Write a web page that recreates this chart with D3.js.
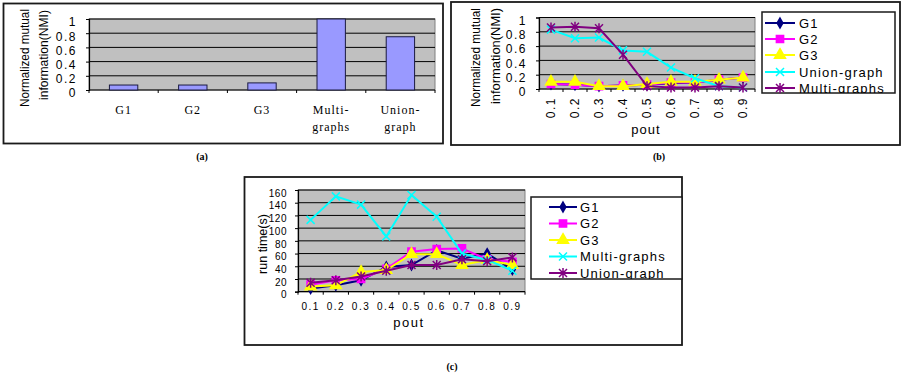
<!DOCTYPE html>
<html><head><meta charset="utf-8">
<script src="https://cdn.jsdelivr.net/npm/d3@7"></script>
<style>body{margin:0;background:#fff} svg{display:block}</style>
</head><body>
<svg id="chart" width="901" height="378"></svg>
<script>
// ---------- data ----------
const catsA = ["G1", "G2", "G3", "Multi-graphs", "Union-graph"];
const catLabelsA = [["G1"], ["G2"], ["G3"], ["Multi-", "graphs"], ["Union-", "graph"]];
const nmiA = [0.07, 0.07, 0.1, 1.0, 0.75];

const pout = ["0.1", "0.2", "0.3", "0.4", "0.5", "0.6", "0.7", "0.8", "0.9"];
const nmiTicks = [0, 0.2, 0.4, 0.6, 0.8, 1];
const nmiTickLabels = ["0", "0.2", "0.4", "0.6", "0.8", "1"];
const runTicks = [0, 20, 40, 60, 80, 100, 120, 140, 160];

// panel (b): NMI vs pout
const bNames = ["G1", "G2", "G3", "Union-graph", "Multi-graphs"];
const bG1 = [0.07, 0.06, 0.04, 0.05, 0.06, 0.08, 0.09, 0.13, 0.16];
const bG2 = [0.07, 0.06, 0.04, 0.05, 0.06, 0.09, 0.09, 0.13, 0.16];
const bG3 = [0.10, 0.10, 0.04, 0.04, 0.07, 0.10, 0.10, 0.13, 0.16];
const bUnion = [0.83, 0.71, 0.72, 0.54, 0.52, 0.30, 0.15, 0.04, 0.02];
const bMulti = [0.86, 0.87, 0.85, 0.48, 0.04, 0.02, 0.02, 0.04, 0.02];

// panel (c): run time vs pout
const cNames = ["G1", "G2", "G3", "Multi-graphs", "Union-graph"];
const cG1 = [5, 10, 18, 39, 42, 65, 52, 60, 35];
const cG2 = [11, 18, 20, 36, 63, 67, 68, 51, 47];
const cG3 = [8, 10, 31, 34, 59, 59, 42, 50, 42];
const cMulti = [113, 150, 137, 87, 152, 118, 60, 50, 33];
const cUnion = [14, 18, 24, 33, 42, 42, 51, 48, 54];

// ---------- styles ----------
const SANS = "'Liberation Sans', Arial, sans-serif";
const SERIF = "'Liberation Serif', 'Times New Roman', serif";
const styles = {
  G1: {color: "#000080", marker: "diamond"},
  G2: {color: "#FF00FF", marker: "square"},
  G3: {color: "#FFFF00", marker: "triangle"},
  cyan: {color: "#00FFFF", marker: "x"},
  purple: {color: "#800080", marker: "star"}
};
const markerPath = {
  diamond: d3.symbol(d3.symbolDiamond, 28)(),
  square: d3.symbol(d3.symbolSquare, 52)(),
  triangle: d3.symbol(d3.symbolTriangle, 52)(),
  x: "M-4,-4L4,4M-4,4L4,-4",
  star: "M-4,-4L4,4M-4,4L4,-4M0,-5L0,5"
};

const svg = d3.select("#chart");

function box(x0, y0, x1, y1) {
  svg.append("rect").attr("x", x0).attr("y", y0)
    .attr("width", x1 - x0).attr("height", y1 - y0)
    .attr("fill", "none").attr("stroke", "#1a1a1a").attr("stroke-width", 1.8);
}

function plotFrame(P, x, y, ticks, labels, o) {
  const g = svg.append("g");
  g.append("rect").attr("x", P.l).attr("y", P.t).attr("width", P.r - P.l).attr("height", P.b - P.t)
    .attr("fill", "#C0C0C0").attr("stroke", "#808080").attr("stroke-width", 1);
  g.selectAll("line.grid").data(ticks.filter(t => t > 0)).join("line")
    .attr("x1", P.l).attr("x2", P.r).attr("y1", d => y(d)).attr("y2", d => y(d))
    .attr("stroke", "#000").attr("stroke-width", 1);
  const ya = g.append("g").attr("transform", `translate(${P.l},0)`)
    .call(d3.axisLeft(y).tickValues(ticks).tickSize(3).tickPadding(o.yPad)
      .tickFormat((d, i) => labels[i]));
  ya.select(".domain").attr("stroke", "#000").attr("stroke-width", 1.2);
  ya.selectAll(".tick line").attr("stroke", "#000");
  ya.selectAll("text").attr("font-family", SANS).attr("font-size", o.yFont)
    .attr("letter-spacing", o.ySpacing).attr("fill", "#000").attr("y", o.yOff);
  const bounds = x.domain().map(d => x(d)).concat([P.r]);
  g.append("line").attr("x1", P.l).attr("x2", P.r).attr("y1", P.b).attr("y2", P.b)
    .attr("stroke", "#000").attr("stroke-width", 1.2);
  g.selectAll("line.bt").data(bounds).join("line")
    .attr("x1", d => d).attr("x2", d => d).attr("y1", P.b).attr("y2", P.b + 3)
    .attr("stroke", "#000");
  return g;
}

function yTitle(lines) {
  lines.forEach(L => {
    svg.append("text").attr("transform", `translate(${L.x},${L.y0}) rotate(-90)`)
      .attr("dominant-baseline", "central").attr("text-anchor", "start")
      .attr("font-family", SANS).attr("font-size", L.size)
      .attr("textLength", L.len).attr("lengthAdjust", "spacingAndGlyphs")
      .text(L.text);
  });
}

function drawSeries(x, y, series) {
  const line = d3.line().x((d, i) => x(pout[i]) + x.bandwidth() / 2).y(d => y(d));
  series.forEach(s => {
    const st = styles[s.style];
    svg.append("path").datum(s.values).attr("d", line)
      .attr("fill", "none").attr("stroke", st.color).attr("stroke-width", 2);
    svg.selectAll(null).data(s.values).join("path")
      .attr("transform", (d, i) => `translate(${x(pout[i]) + x.bandwidth() / 2},${y(d)})`)
      .attr("d", markerPath[st.marker])
      .attr("fill", (st.marker === "x" || st.marker === "star") ? "none" : st.color)
      .attr("stroke", st.color).attr("stroke-width", 1.5);
  });
}

function legend(L, series, clipId) {
  svg.append("clipPath").attr("id", clipId).append("rect")
    .attr("x", L.x0).attr("y", L.y0).attr("width", L.x1 - L.x0).attr("height", L.y1 - L.y0);
  svg.append("rect").attr("x", L.x0).attr("y", L.y0).attr("width", L.x1 - L.x0).attr("height", L.y1 - L.y0)
    .attr("fill", "#fff").attr("stroke", "#1a1a1a").attr("stroke-width", 1.5);
  const g = svg.append("g").attr("clip-path", `url(#${clipId})`);
  series.forEach((s, i) => {
    const st = styles[s.style];
    const yy = L.rows[i];
    g.append("line").attr("x1", L.lx0).attr("x2", L.lx1).attr("y1", yy).attr("y2", yy)
      .attr("stroke", st.color).attr("stroke-width", 2);
    g.append("path").attr("transform", `translate(${(L.lx0 + L.lx1) / 2},${yy})`)
      .attr("d", markerPath[st.marker])
      .attr("fill", (st.marker === "x" || st.marker === "star") ? "none" : st.color)
      .attr("stroke", st.color).attr("stroke-width", 1.5);
    g.append("text").attr("x", L.tx).attr("y", yy).attr("dominant-baseline", "central")
      .attr("font-family", SANS).attr("font-size", L.font).attr("letter-spacing", L.spacing)
      .text(s.name);
  });
}

function caption(txt, x, y) {
  svg.append("text").attr("x", x).attr("y", y).attr("text-anchor", "middle")
    .attr("font-family", SERIF).attr("font-size", 10).attr("font-weight", "bold").text(txt);
}

// ---------- panel (a) ----------
box(3.5, 3.5, 443, 143.5);
{
  const P = {l: 89, r: 435, t: 19, b: 90};
  const x = d3.scaleBand().domain(catsA).range([P.l, P.r]).padding(0);
  const y = d3.scaleLinear().domain([0, 1]).range([P.b, P.t]);
  plotFrame(P, x, y, nmiTicks, nmiTickLabels, {yPad: 9, yFont: 12, ySpacing: 1.5, yOff: 3});
  const bw = x.bandwidth() * 0.41;
  svg.selectAll("rect.bar").data(nmiA).join("rect")
    .attr("x", (d, i) => x(catsA[i]) + (x.bandwidth() - bw) / 2)
    .attr("y", d => y(d)).attr("width", bw).attr("height", d => y(0) - y(d))
    .attr("fill", "#9999FF").attr("stroke", "#1a1a40").attr("stroke-width", 1);
  catLabelsA.forEach((lines, i) => {
    lines.forEach((t, j) => {
      svg.append("text").attr("x", x(catsA[i]) + x.bandwidth() / 2).attr("y", 114 + j * 17)
        .attr("text-anchor", "middle").attr("font-family", SERIF).attr("font-size", 12)
        .attr("letter-spacing", 1).text(t);
    });
  });
  yTitle([
    {text: "Normalized mutual", x: 24, y0: 107, len: 98, size: 13},
    {text: "information(NMI)", x: 43, y0: 100, len: 90, size: 13}
  ]);
}
caption("(a)", 202, 160);

// ---------- panel (b) ----------
box(451, 2, 900, 145);
{
  const P = {l: 539, r: 755, t: 17.5, b: 89};
  const x = d3.scaleBand().domain(pout).range([P.l, P.r]).padding(0);
  const y = d3.scaleLinear().domain([0, 1]).range([P.b, P.t]);
  plotFrame(P, x, y, nmiTicks, nmiTickLabels, {yPad: 9, yFont: 12, ySpacing: 1.5, yOff: 3});
  svg.selectAll("text.xb").data(pout).join("text")
    .attr("transform", d => `translate(${x(d) + x.bandwidth() / 2},97) rotate(-90)`)
    .attr("text-anchor", "end").attr("dominant-baseline", "central")
    .attr("font-family", SANS).attr("font-size", 12).attr("letter-spacing", 1.5).text(d => d);
  svg.append("text").attr("x", 646).attr("y", 134).attr("text-anchor", "middle")
    .attr("font-family", SANS).attr("font-size", 13).attr("letter-spacing", 1).text("pout");
  yTitle([
    {text: "Normalized mutual", x: 475, y0: 107, len: 99, size: 13},
    {text: "information(NMI)", x: 495, y0: 104, len: 96, size: 13}
  ]);
  const series = [
    {name: bNames[0], values: bG1, style: "G1"},
    {name: bNames[1], values: bG2, style: "G2"},
    {name: bNames[2], values: bG3, style: "G3"},
    {name: bNames[3], values: bUnion, style: "cyan"},
    {name: bNames[4], values: bMulti, style: "purple"}
  ];
  drawSeries(x, y, series);
  legend({x0: 762, y0: 12, x1: 895, y1: 93, rows: [23, 39, 55, 72, 88],
    lx0: 765, lx1: 795, tx: 799, font: 13, spacing: 1.2}, series, "clipB");
}
caption("(b)", 659, 160);

// ---------- panel (c) ----------
box(244.5, 177, 682, 345);
{
  const P = {l: 298, r: 525, t: 190, b: 291.7};
  const x = d3.scaleBand().domain(pout).range([P.l, P.r]).padding(0);
  const y = d3.scaleLinear().domain([0, 160]).range([P.b, P.t]);
  plotFrame(P, x, y, runTicks, runTicks.map(String), {yPad: 8, yFont: 10, ySpacing: 0.5, yOff: 3});
  svg.selectAll("text.xc").data(pout).join("text")
    .attr("x", d => x(d) + x.bandwidth() / 2).attr("y", 310)
    .attr("text-anchor", "middle").attr("font-family", SANS).attr("font-size", 10)
    .attr("letter-spacing", 1.5).text(d => d);
  svg.append("text").attr("x", 409).attr("y", 327).attr("text-anchor", "middle")
    .attr("font-family", SANS).attr("font-size", 13).attr("letter-spacing", 1.5).text("pout");
  yTitle([{text: "run time(s)", x: 263, y0: 274, len: 60, size: 12}]);
  const series = [
    {name: cNames[0], values: cG1, style: "G1"},
    {name: cNames[1], values: cG2, style: "G2"},
    {name: cNames[2], values: cG3, style: "G3"},
    {name: cNames[3], values: cMulti, style: "cyan"},
    {name: cNames[4], values: cUnion, style: "purple"}
  ];
  drawSeries(x, y, series);
  legend({x0: 531, y0: 197, x1: 682, y1: 279, rows: [207, 223.5, 240, 256.5, 273],
    lx0: 549, lx1: 577, tx: 580, font: 13, spacing: 1.2}, series, "clipC");
}
caption("(c)", 452, 370);
</script>
</body></html>
